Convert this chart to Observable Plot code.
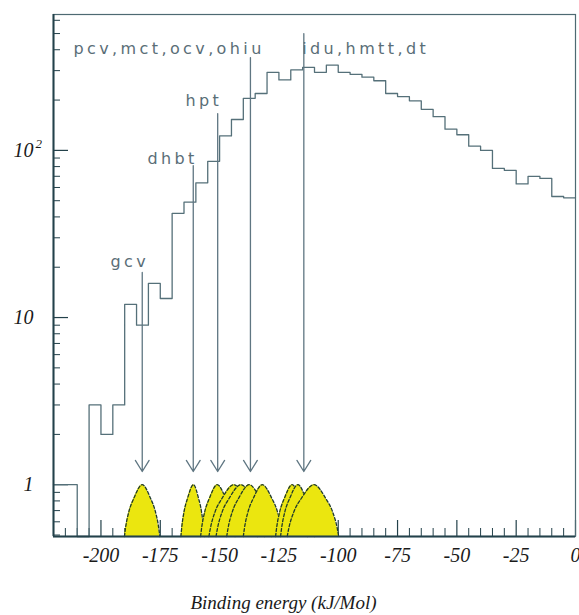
<!DOCTYPE html>
<html>
<head>
<meta charset="utf-8">
<script src="https://cdn.jsdelivr.net/npm/d3@7"></script>
<script src="https://cdn.jsdelivr.net/npm/@observablehq/plot@0.6"></script>
<style>
  body { margin: 0; background: #fff; }
</style>
</head>
<body>
<div id="chart"></div>
<script>
// ---- histogram (5 kJ/Mol bins from -220 to 0) ----
const binStart = -220;
const binWidth = 5;
const counts = [1, 1, 0, 3, 2, 3, 12, 9, 16, 13, 42, 49, 64, 86, 122, 153, 205, 219,
  293, 264, 303, 314, 293, 324, 293, 285, 274, 261, 219, 210, 198, 176, 159, 134,
  124, 106, 100, 78, 76, 63, 70, 68, 53, 52];

// ---- axes ----
const xDomain = [-220, 0];
const yDomain = [0.49, 650];
const xMajorTicks = [-200, -175, -150, -125, -100, -75, -50, -25, 0];
const xMinorTicks = d3.range(-215, 0, 5).filter(v => v % 25 !== 0);
const yLabelTicks = [1, 10, 100];
const yLabelText = ["1", "10", "10"];
const ySupTicks = [100];
const ySupText = ["2"];
const yMinorTicks = [0.5, 0.6, 0.7, 0.8, 0.9, 2, 3, 4, 5, 6, 7, 8, 9, 20, 30, 40, 50, 60, 70, 80, 90, 200, 300, 400, 500, 600];
const xTitle = "Binding energy (kJ/Mol)";

// ---- annotations ----
const annLabels = ["gcv", "dhbt", "hpt", "pcv,mct,ocv,ohiu", "idu,hmtt,dt"];
const annLabelX = [-196, -180.4, -164.4, -211.6, -115.2];
const annLabelY = [20.2, 83, 185, 379, 379];
const arrowX = [-182.6, -161.1, -150.8, -137, -114.5];
const arrowTop = [18.6, 81, 166, 359, 500];
const arrowTip = [1.2, 1.2, 1.2, 1.2, 1.2];

// ---- yellow peaks (left foot, peak, right foot) ----
const bumpLeft  = [-190.1, -166.3, -158, -154.5, -151.5, -147, -140, -126.4, -124.3, -121.5];
const bumpPeak  = [-182.6, -161, -151, -144, -141, -137.5, -132, -119.4, -117, -110.2];
const bumpRight = [-175.2, -156.5, -143.5, -134, -131, -128, -123.5, -113, -110, -99.8];
// profile read from the first peak: offset (fraction of half width) and height
const profileF = [-1, -0.94, -0.75, -0.47, 0, 0.47, 0.75, 0.94, 1];
const profileV = [0.49, 0.55, 0.69, 0.83, 1, 0.83, 0.69, 0.55, 0.49];

// ---- build tables ----
const hist = counts.map((c, i) => ({x: binStart + i * binWidth, c}));
hist.push({x: binStart + counts.length * binWidth, c: counts[counts.length - 1]});

const bumps = bumpPeak.map((p, i) => profileF.map((f, j) => ({
  x: p + f * (f < 0 ? p - bumpLeft[i] : bumpRight[i] - p),
  y: profileV[j]
})));

const ann = annLabels.map((t, i) => ({t, x: annLabelX[i], y: annLabelY[i]}));
const arrows = arrowX.map((x, i) => ({x, top: arrowTop[i], tip: arrowTip[i]}));

const W = 579, H = 615;
const mL = 53, mR = 4, mT = 14, mB = 79;
const innerW = W - mL - mR, innerH = H - mT - mB;

const axisColor = "#23414a";
const lineColor = "#557079";
const serif = "Liberation Serif, Times New Roman, serif";

const chart = Plot.plot({
  width: W,
  height: H,
  marginLeft: mL,
  marginRight: mR,
  marginTop: mT,
  marginBottom: mB,
  style: {background: "#fff", color: "#1a1a1a"},
  x: {domain: xDomain},
  y: {type: "log", domain: yDomain},
  marks: [
    // inward ticks
    Plot.ruleX(xMajorTicks, {x: d => d, insetTop: innerH - 16, stroke: axisColor, strokeWidth: 1.2}),
    Plot.ruleX(xMinorTicks, {x: d => d, insetTop: innerH - 8, stroke: axisColor, strokeWidth: 1}),
    Plot.ruleY(yLabelTicks, {y: d => d, insetRight: innerW - 15, stroke: axisColor, strokeWidth: 1.2}),
    Plot.ruleY(yMinorTicks, {y: d => d, insetRight: innerW - 7, stroke: axisColor, strokeWidth: 1}),
    // histogram
    Plot.line(hist, {x: "x", y: d => (d.c > 0 ? d.c : yDomain[0]), curve: "step-after", stroke: lineColor, strokeWidth: 1.3}),
    // peaks
    ...bumps.flatMap(b => [
      Plot.areaY(b, {x: "x", y1: yDomain[0], y2: "y", curve: "monotone-x", fill: "#ebe60f"}),
      Plot.line(b, {x: "x", y: "y", curve: "monotone-x", stroke: "#1f3a2b", strokeWidth: 1.3, strokeDasharray: "3,2"})
    ]),
    // arrows
    Plot.arrow(arrows, {x1: "x", y1: "top", x2: "x", y2: "tip", headLength: 15, headAngle: 64, stroke: "#5f7682", strokeWidth: 1.3}),
    // annotation labels
    Plot.text(ann, {x: "x", y: "y", text: "t", textAnchor: "start", lineAnchor: "bottom", fontSize: 16,
      fontFamily: "DejaVu Sans, Verdana, sans-serif", fill: "#5a6e77"}),
    // axes labels
    Plot.axisX({ticks: xMajorTicks, tickSize: 0, tickPadding: 11, tickFormat: d => String(d), label: null,
      fontSize: 20, fontFamily: serif, fontStyle: "italic"}),
    Plot.axisY({ticks: yLabelTicks, tickSize: 0, tickPadding: 20, tickFormat: d => yLabelText[yLabelTicks.indexOf(d)], label: null,
      fontSize: 20, fontFamily: serif, fontStyle: "italic"}),
    Plot.text(ySupTicks, {x: xDomain[0], y: d => d, text: (d, i) => ySupText[i], textAnchor: "start", dx: -18, dy: -7,
      fontSize: 13, fontFamily: serif, fontStyle: "italic", fill: "#1a1a1a"}),
    Plot.text([xTitle], {text: d => d, frameAnchor: "bottom", dy: 72, dx: -31, fontSize: 19,
      fontFamily: serif, fontStyle: "italic", fill: "#1a1a1a"}),
    // frame
    Plot.frame({stroke: "#4e6a72", strokeWidth: 1.2}),
    Plot.ruleX([xDomain[0]], {x: d => d, stroke: axisColor, strokeWidth: 2}),
    Plot.ruleY([yDomain[0]], {y: d => d, stroke: axisColor, strokeWidth: 2})
  ]
});

// widen the annotation lettering like the reference
d3.select(chart).selectAll("text")
  .filter(function () { return annLabels.includes(this.textContent); })
  .style("letter-spacing", "3.4px");

document.getElementById("chart").appendChild(chart);
</script>
</body>
</html>
